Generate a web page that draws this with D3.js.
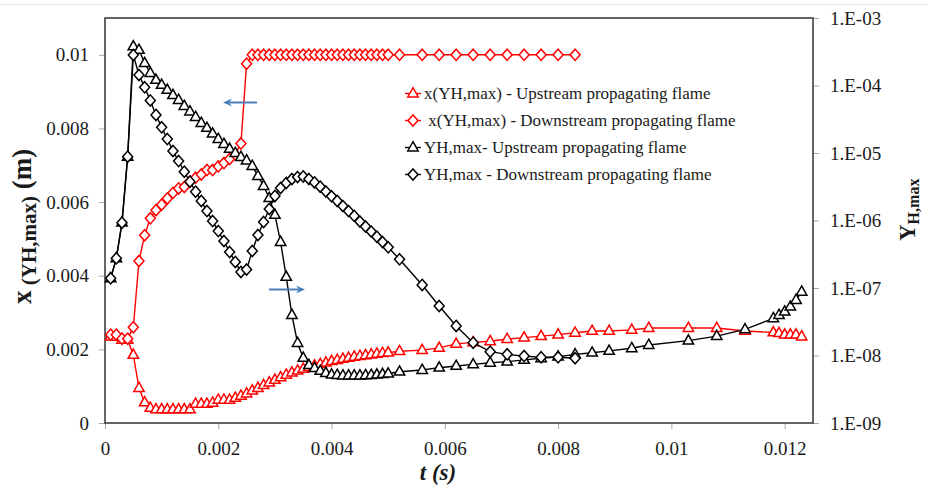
<!DOCTYPE html>
<html>
<head>
<meta charset="utf-8">
<script src="https://cdn.jsdelivr.net/npm/d3@7"></script>
<style>
  body { margin: 0; background: #fff; }
  svg { display: block; }
  text { font-family: "Liberation Serif", "Times New Roman", serif; fill: #1a1a1a; }
</style>
</head>
<body>
<svg id="chart" width="927" height="486"></svg>
<script>
// ---- time samples (s) ----
const upTime = [0.0001,0.0002,0.0003,0.0004,0.0005,0.0006,0.0007,0.0008,0.0009,0.001,
  0.0011,0.0012,0.0013,0.0014,0.0015,0.0016,0.0017,0.0018,0.0019,0.002,
  0.0021,0.0022,0.0023,0.0024,0.0025,0.0026,0.0027,0.0028,0.0029,0.003,
  0.0031,0.0032,0.0033,0.0034,0.0035,0.0036,0.0037,0.0038,0.0039,0.004,
  0.0041,0.0042,0.0043,0.0044,0.0045,0.0046,0.0047,0.0048,0.0049,0.005,
  0.0052,0.0056,0.0059,0.0062,0.0065,0.0068,0.0071,0.0074,0.0077,0.008,
  0.0083,0.0086,0.0089,0.0093,0.0096,0.0103,0.0108,0.0113,0.0118,0.0119,
  0.012,0.0121,0.0122,0.0123];

const downTime = [0.0001,0.0002,0.0003,0.0004,0.0005,0.0006,0.0007,0.0008,0.0009,0.001,
  0.0011,0.0012,0.0013,0.0014,0.0015,0.0016,0.0017,0.0018,0.0019,0.002,
  0.0021,0.0022,0.0023,0.0024,0.0025,0.0026,0.0027,0.0028,0.0029,0.003,
  0.0031,0.0032,0.0033,0.0034,0.0035,0.0036,0.0037,0.0038,0.0039,0.004,
  0.0041,0.0042,0.0043,0.0044,0.0045,0.0046,0.0047,0.0048,0.0049,0.005,
  0.0052,0.0056,0.0059,0.0062,0.0065,0.0068,0.0071,0.0074,0.0077,0.008,
  0.0083];

// ---- x(YH,max) in m, left axis ----
const xUp = [0.00235,0.00234,0.00226,0.00226,0.00185,0.00095,0.00056,0.00041,0.00037,0.00037,
  0.00037,0.00037,0.00037,0.00037,0.00037,0.00052,0.00052,0.00052,0.00055,0.00063,
  0.00063,0.00063,0.00068,0.00074,0.0008,0.00088,0.00095,0.00103,0.0011,0.00117,
  0.00124,0.00131,0.00137,0.00142,0.00147,0.00152,0.00156,0.0016,0.00164,0.00168,
  0.00171,0.00174,0.00177,0.0018,0.00182,0.00184,0.00186,0.00188,0.0019,0.00191,
  0.00195,0.00198,0.00204,0.00215,0.00219,0.00222,0.00228,0.00232,0.00236,0.0024,
  0.00245,0.0025,0.0025,0.00253,0.00258,0.00258,0.00258,0.0025,0.00246,0.00244,
  0.0024,0.0024,0.0024,0.00235];

const xDown = [0.0024,0.0024,0.00229,0.00229,0.0026,0.0044,0.0051,0.00556,0.00578,0.00593,
  0.0061,0.00625,0.00637,0.00641,0.00656,0.00666,0.00675,0.00687,0.00687,0.00697,
  0.00706,0.00717,0.00729,0.00759,0.00976,0.01,0.01,0.01,0.01,0.01,
  0.01,0.01,0.01,0.01,0.01,0.01,0.01,0.01,0.01,0.01,
  0.01,0.01,0.01,0.01,0.01,0.01,0.01,0.01,0.01,0.01,
  0.01,0.01,0.01,0.01,0.01,0.01,0.01,0.01,0.01,0.01,
  0.01];

// ---- YH,max, right (log) axis ----
const yUp = [1.39e-7,2.75e-7,9.3e-7,8.8e-6,3.8e-4,3.36e-4,2.15e-4,1.53e-4,1.21e-4,1.02e-4,
  8.6e-5,7.2e-5,6.1e-5,4.97e-5,4.12e-5,3.41e-5,2.78e-5,2.35e-5,1.94e-5,1.61e-5,
  1.36e-5,1.15e-5,1.0e-5,8.73e-6,7.74e-6,6.41e-6,4.56e-6,3.24e-6,2.15e-6,1.21e-6,
  4.8e-7,1.46e-7,3.98e-8,1.53e-8,9.2e-9,7.2e-9,6.5e-9,5.9e-9,5.5e-9,5.2e-9,
  5.14e-9,5.05e-9,5.05e-9,5.05e-9,5.05e-9,5.1e-9,5.14e-9,5.2e-9,5.3e-9,5.4e-9,
  5.75e-9,6.1e-9,6.6e-9,7.0e-9,7.4e-9,7.8e-9,8.1e-9,8.6e-9,9.1e-9,9.6e-9,
  1.04e-8,1.1e-8,1.17e-8,1.28e-8,1.43e-8,1.66e-8,1.94e-8,2.44e-8,3.56e-8,3.98e-8,
  4.46e-8,5.28e-8,6.64e-8,8.8e-8];

const yDown = [1.39e-7,2.75e-7,9.27e-7,8.81e-6,2.83e-4,1.43e-4,9.4e-5,6.0e-5,3.66e-5,2.4e-5,
  1.61e-5,1.07e-5,7.6e-6,5.28e-6,3.76e-6,2.67e-6,1.95e-6,1.38e-6,9.8e-7,6.98e-7,
  4.97e-7,3.41e-7,2.43e-7,1.73e-7,1.88e-7,3.53e-7,6.1e-7,9.5e-7,1.48e-6,2.31e-6,
  3.03e-6,3.6e-6,4.12e-6,4.41e-6,4.49e-6,4.12e-6,3.66e-6,3.17e-6,2.69e-6,2.28e-6,
  1.95e-6,1.64e-6,1.38e-6,1.17e-6,9.66e-7,8.15e-7,6.87e-7,5.75e-7,4.8e-7,4.01e-7,
  2.66e-7,1.11e-7,5.41e-8,2.74e-8,1.55e-8,1.14e-8,1.04e-8,9.8e-9,9.4e-9,9.4e-9,
  9.1e-9];

// ---- ticks ----
const xTicks = [0,0.002,0.004,0.006,0.008,0.01,0.012];
const xTickLabels = ["0","0.002","0.004","0.006","0.008","0.01","0.012"];
const leftTicks = [0,0.002,0.004,0.006,0.008,0.01];
const leftTickLabels = ["0","0.002","0.004","0.006","0.008","0.01"];
const rightTicks = [1e-9,1e-8,1e-7,1e-6,1e-5,1e-4,1e-3];
const rightTickLabels = ["1.E-09","1.E-08","1.E-07","1.E-06","1.E-05","1.E-04","1.E-03"];

const legendLabels = [
  "x(YH,max) - Upstream propagating flame",
  " x(YH,max) - Downstream propagating flame",
  "YH,max- Upstream propagating flame",
  "YH,max - Downstream propagating flame"
];

const svg = d3.select("#chart");
const plot = { left: 105, right: 813, top: 18, bottom: 423 };

const x = d3.scaleLinear().domain([0, 0.0125]).range([plot.left, plot.right]);
const yL = d3.scaleLinear().domain([0, 0.011]).range([plot.bottom, plot.top]);
const yR = d3.scaleLog().domain([1e-9, 1e-3]).range([plot.bottom, plot.top]);

// faint chart-area edge
svg.append("line").attr("x1", 0).attr("x2", 927).attr("y1", 4.5).attr("y2", 4.5)
  .attr("stroke", "#e6e6e6").attr("stroke-width", 1);

// axes
function styleAxis(g) {
  g.select(".domain").remove();
  g.selectAll(".tick line").attr("stroke", "#a6a6a6").attr("stroke-width", 1);
  g.selectAll(".tick text").style("font-family", "'Liberation Serif', serif")
    .style("font-size", "19px").attr("fill", "#1a1a1a");
}

svg.append("g").attr("transform", `translate(0,${plot.bottom})`)
  .call(d3.axisBottom(x).tickValues(xTicks).tickFormat((d, i) => xTickLabels[i])
    .tickSizeInner(6).tickSizeOuter(0).tickPadding(13))
  .call(styleAxis);

svg.append("g").attr("transform", `translate(${plot.left},0)`)
  .call(d3.axisLeft(yL).tickValues(leftTicks).tickFormat((d, i) => leftTickLabels[i])
    .tickSizeInner(6).tickSizeOuter(0).tickPadding(10))
  .call(styleAxis);

svg.append("g").attr("transform", `translate(${plot.right},0)`)
  .call(d3.axisRight(yR).tickValues(rightTicks).tickFormat((d, i) => rightTickLabels[i])
    .tickSizeInner(6).tickSizeOuter(0).tickPadding(11))
  .call(styleAxis);

// plot frame
svg.append("rect")
  .attr("x", plot.left).attr("y", plot.top)
  .attr("width", plot.right - plot.left).attr("height", plot.bottom - plot.top)
  .attr("fill", "none").attr("stroke", "#333").attr("stroke-width", 1.5);

// marker shapes
const triPath = "M0,-5.8L5.2,3.4L-5.2,3.4Z";
const diaPath = "M0,-5.6L5,0L0,5.6L-5,0Z";

function drawSeries(times, vals, yScale, color, shape) {
  const pts = times.map((t, i) => [x(t), yScale(vals[i])]);
  const g = svg.append("g");
  g.append("path").attr("d", d3.line()(pts))
    .attr("fill", "none").attr("stroke", color).attr("stroke-width", 1.4);
  g.selectAll("path.m").data(pts).join("path").attr("class", "m")
    .attr("d", shape).attr("transform", d => `translate(${d[0]},${d[1]})`)
    .attr("fill", "#fff").attr("stroke", color).attr("stroke-width", 1.5);
}

const RED = "#ff0000", BLACK = "#000000";
drawSeries(upTime, xUp, yL, RED, triPath);
drawSeries(downTime, xDown, yL, RED, diaPath);
drawSeries(upTime, yUp, yR, BLACK, triPath);
drawSeries(downTime, yDown, yR, BLACK, diaPath);

// legend
const legendStyles = [[RED, triPath], [RED, diaPath], [BLACK, triPath], [BLACK, diaPath]];
const legend = svg.append("g");
legendLabels.forEach((lab, i) => {
  const cy = 93.5 + i * 27;
  const [c, shp] = legendStyles[i];
  legend.append("line").attr("x1", 405).attr("x2", 421).attr("y1", cy).attr("y2", cy)
    .attr("stroke", c).attr("stroke-width", 1.4);
  legend.append("path").attr("d", shp).attr("transform", `translate(413,${cy})`)
    .attr("fill", "#fff").attr("stroke", c).attr("stroke-width", 1.5);
  legend.append("text").attr("x", 424).attr("y", cy).attr("dy", "0.35em")
    .attr("xml:space", "preserve")
    .style("font-size", "17px").style("white-space", "pre").text(lab);
});

// direction arrows
const BLUE = "#4a7ebb";
function arrow(x1, x2, yy) {
  const dir = Math.sign(x2 - x1);
  svg.append("line").attr("x1", x1).attr("x2", x2 - dir * 6).attr("y1", yy).attr("y2", yy)
    .attr("stroke", BLUE).attr("stroke-width", 2);
  svg.append("path")
    .attr("d", `M${x2},${yy}L${x2 - dir * 9},${yy - 4}L${x2 - dir * 6},${yy}L${x2 - dir * 9},${yy + 4}Z`)
    .attr("fill", BLUE);
}
arrow(257, 223, 102.5);
arrow(269, 305, 289.5);

// axis titles
const leftTitle = svg.append("text")
  .attr("transform", "translate(31,304) rotate(-90)")
  .style("font-weight", "bold");
leftTitle.append("tspan").style("font-size", "27px").text("x");
leftTitle.append("tspan").style("font-size", "21px").attr("dy", 5).text(" (YH,max)");
leftTitle.append("tspan").style("font-size", "27px").attr("dy", -5).text(" (m)");

const rightTitle = svg.append("text")
  .attr("transform", "translate(915,241) rotate(-90)")
  .style("font-weight", "bold");
rightTitle.append("tspan").style("font-size", "23px").text("Y");
rightTitle.append("tspan").style("font-size", "16px").attr("dy", 4).text("H,max");

svg.append("text").attr("x", 438).attr("y", 480).attr("text-anchor", "middle")
  .style("font-weight", "bold").style("font-style", "italic").style("font-size", "23px")
  .text("t (s)");
</script>
</body>
</html>
